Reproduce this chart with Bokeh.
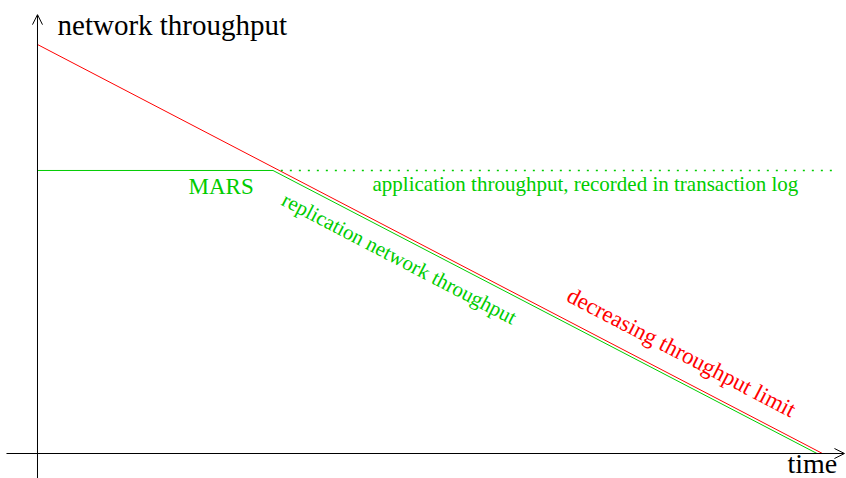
from bokeh.plotting import figure
from bokeh.models import Range1d, Arrow, OpenHead
from bokeh.core.properties import value
from bokeh.embed import file_html
from bokeh.resources import INLINE

# ---- data (arbitrary units: time 0..10, throughput 0..10) ----
limit_time = [0.0, 10.0]
limit_value = [10.0, 0.0]

replication_time = [0.0, 3.0, 9.93]
replication_value = [6.92, 6.92, 0.0]

recorded_time = [3.1, 10.19]
recorded_value = [6.92, 6.92]

label_y = "network throughput"
label_x = "time"
label_mars = "MARS"
label_app = "application throughput, recorded in transaction log"
label_repl = "replication network throughput"
label_limit = "decreasing throughput limit"

RED = "#ff0000"
GREEN = "#00cc00"
SERIF = value("Liberation Serif")

p = figure(width=846, height=478, output_backend="svg", toolbar_location=None,
           x_range=Range1d(-0.4713, 10.306), y_range=Range1d(-0.611, 11.076),
           min_border=0)
p.axis.visible = False
p.grid.visible = False
p.outline_line_color = None
p.background_fill_color = "white"

# axes with open arrow heads
p.add_layout(Arrow(end=OpenHead(size=10, line_color="black", line_width=1),
                   x_start=0, y_start=-0.62, x_end=0, y_end=10.73,
                   line_color="black", line_width=1))
p.add_layout(Arrow(end=OpenHead(size=10, line_color="black", line_width=1),
                   x_start=-0.395, y_start=0, x_end=10.28, y_end=0,
                   line_color="black", line_width=1))

# lines
p.line(limit_time, limit_value, line_color=RED, line_width=1)
p.line(replication_time, replication_value, line_color=GREEN, line_width=1)
p.line(recorded_time, recorded_value, line_color=GREEN, line_width=1.5, line_dash="2 7")

# labels
p.text(x=[0.255], y=[10.486], text=[label_y], text_font=SERIF, text_font_size="29px",
       text_color="black", text_align="left", text_baseline="alphabetic")
p.text(x=[9.554], y=[-0.243], text=[label_x], text_font=SERIF, text_font_size="28px",
       text_color="black", text_align="left", text_baseline="alphabetic")
p.text(x=[1.924], y=[6.526], text=[label_mars], text_font=SERIF, text_font_size="23px",
       text_color=GREEN, text_align="left", text_baseline="alphabetic")
p.text(x=[4.268], y=[6.58], text=[label_app], text_font=SERIF, text_font_size="21px",
       text_color=GREEN, text_align="left", text_baseline="alphabetic")
p.text(x=[4.61], y=[4.768], text=[label_repl], text_font=SERIF, text_font_size="21px",
       text_color=GREEN, text_align="center", text_baseline="middle", angle=-0.48)
p.text(x=[8.204], y=[2.469], text=[label_limit], text_font=SERIF, text_font_size="23px",
       text_color=RED, text_align="center", text_baseline="middle", angle=-0.48)

open("out.html", "w").write(file_html(p, INLINE))
